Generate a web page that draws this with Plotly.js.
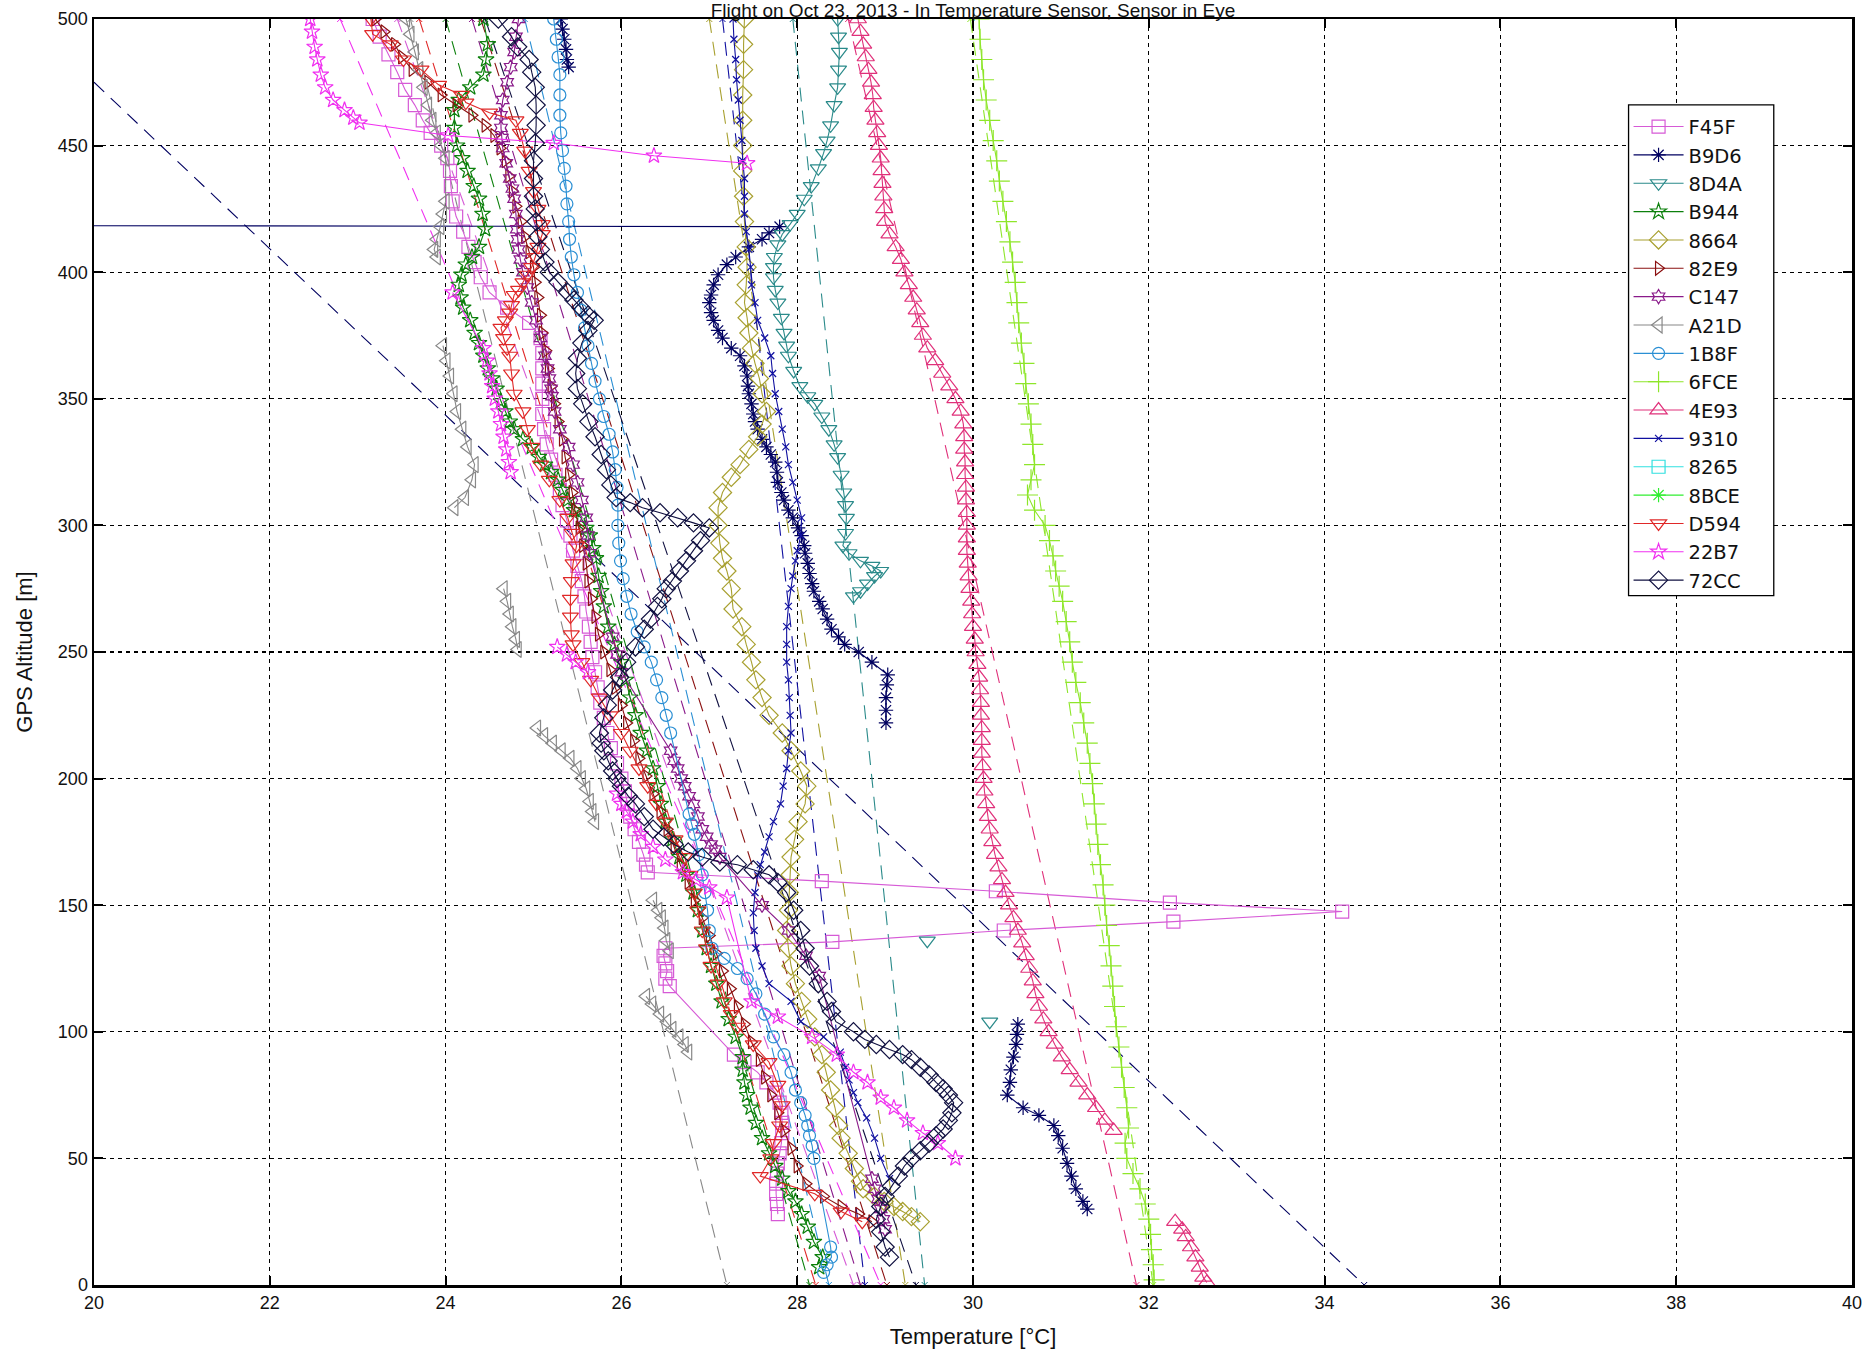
<!DOCTYPE html>
<html>
<head>
<meta charset="utf-8">
<script src="https://cdn.plot.ly/plotly-3.0.1.min.js"></script>
<style>html,body{margin:0;padding:0;background:#fff;}#chart{width:1868px;height:1352px;}</style>
</head>
<body>
<div id="chart"></div>
<script>
// ---------- DATA ----------
const sensorNames = ["F45F","B9D6","8D4A","B944","8664","82E9","C147","A21D","1B8F","6FCE","4E93","9310","8265","8BCE","D594","22B7","72CC"];

const alt_F45F = [500,493,486,479,472,466,460,455,450,445,440,434,428,422,416,410,404,398,392,386,380,374,368,362,356,350,344,338,332,326,320,314,308,302,296,290,284,278,272,266,260,254,248,242,236,230,224,218,212,206,200,195,190,185,180,175,170,166,163,159.5,155.5,151,147.5,143.5,140,135.5,133,130,127,124,121,118,91,88,84,80,76,72,68,64,60,56,52,48,44,40,36,32,28];
const temp_F45F = [23.17,23.25,23.35,23.45,23.54,23.65,23.74,23.83,23.95,24.02,24.05,24.06,24.08,24.12,24.2,24.26,24.33,24.4,24.5,24.7,24.95,25.08,25.1,25.1,25.1,25.1,25.1,25.12,25.15,25.2,25.25,25.3,25.33,25.38,25.42,25.45,25.5,25.55,25.58,25.6,25.63,25.65,25.67,25.7,25.73,25.76,25.8,25.84,25.88,25.95,26.0,26.04,26.07,26.1,26.15,26.2,26.25,26.28,26.3,28.28,30.26,32.24,34.2,32.28,30.35,28.4,26.5,26.48,26.5,26.52,26.5,26.55,27.28,27.4,27.55,27.65,27.75,27.8,27.82,27.83,27.83,27.82,27.8,27.78,27.77,27.76,27.76,27.77,27.78];

const alt_B9D6 = [500,496,492,488,484,481,null,419.3,418,415.5,413,410,406,403,399,395,391,388,384,381,377,374,370,367,363,359,355,352,348,344,341,338,334,331,328,325,321,317,313,310,306,303,299,296,292,289,285,281,277,274,270,267,263,259,256,253,250,246,241,237,232,227,222,null,103,99,95,90,85,80,75,70,67,63,59,54,48,43,38,33,30];
const temp_B9D6 = [25.31,25.33,25.35,25.37,25.38,25.4,null,0,27.8,27.68,27.6,27.45,27.3,27.2,27.1,27.05,27.02,27.0,27.02,27.05,27.1,27.15,27.25,27.35,27.4,27.43,27.44,27.45,27.48,27.5,27.52,27.55,27.6,27.65,27.7,27.75,27.77,27.78,27.82,27.85,27.9,27.95,28.01,28.05,28.08,28.09,28.12,28.14,28.17,28.19,28.25,28.29,28.34,28.39,28.47,28.54,28.7,28.85,29.03,29.02,29.01,29.01,29.01,null,30.51,30.5,30.49,30.46,30.43,30.42,30.39,30.57,30.75,30.92,30.97,31.02,31.07,31.12,31.17,31.25,31.3];

const alt_8D4A = [500,493,487,480,473,466,458,452,447,441,434,429,423,419,415,411,406,402,398,393,388,382,376,371,367,361,355,351,348,343,338,332,327,320,313,308,303,297,292,289,286,284,282,280,277,274,272,null,136,null,104];
const temp_8D4A = [28.46,28.47,28.48,28.47,28.46,28.42,28.38,28.34,28.3,28.24,28.16,28.08,28.0,27.92,27.83,27.78,27.74,27.73,27.73,27.75,27.78,27.82,27.85,27.88,27.9,27.96,28.03,28.12,28.2,28.28,28.36,28.42,28.46,28.5,28.53,28.55,28.56,28.55,28.52,28.59,28.72,28.85,28.95,28.88,28.8,28.72,28.64,null,29.48,null,30.19];

const alt_B944 = [500,490,484,478,473,468,464,457,450,445,440,434,429,423,417,410,406,403,399,395,390,386,381,376,372,367,362,358,354,349,345,341,338,334,331,327,324,321,318,314,310,306,303,299,296,291,287,280,274,268,260,253,246,239,232,225,218,211,204,197,190,183,176,169,162,155,148,140,133,126,119,112,105,98,90,85,80,75,70,64,58,52,47,42,37,33,28,23,17,11,7];
const temp_B944 = [24.43,24.48,24.46,24.43,24.28,24.15,24.1,24.1,24.13,24.19,24.25,24.32,24.38,24.42,24.45,24.38,24.3,24.23,24.18,24.15,24.17,24.2,24.28,24.33,24.38,24.43,24.48,24.53,24.58,24.63,24.68,24.73,24.78,24.88,24.98,25.06,25.13,25.2,25.28,25.33,25.39,25.46,25.54,25.6,25.64,25.68,25.71,25.74,25.77,25.8,25.85,25.92,26.0,26.05,26.1,26.16,26.22,26.29,26.36,26.41,26.45,26.5,26.58,26.66,26.74,26.82,26.87,26.92,26.97,27.02,27.08,27.14,27.22,27.3,27.38,27.38,27.4,27.43,27.47,27.53,27.6,27.68,27.75,27.83,27.9,27.98,28.05,28.12,28.19,28.29,28.25];

const alt_8664 = [500,490,480,470,460,450,440,430,420,410,402,395,388,382,376,370,364,358,352,345,340,335,330,324,319,313,307,300,293,287,282,275,267,260,253,246,239,232,225,218,211,203,197,190,183,176,169,162,155,148,140,133,126,119,112,105,98,91,84,77,70,63,58,52,46,41,38,35,33,31,29,27,25];
const temp_8664 = [27.4,27.39,27.39,27.38,27.38,27.38,27.38,27.39,27.4,27.42,27.43,27.42,27.4,27.43,27.45,27.48,27.52,27.57,27.6,27.65,27.6,27.55,27.45,27.35,27.25,27.15,27.1,27.1,27.12,27.15,27.2,27.25,27.27,27.37,27.42,27.48,27.53,27.6,27.68,27.83,27.93,28.04,28.11,28.09,28.01,27.97,27.93,27.92,27.91,27.9,27.88,27.9,27.93,27.98,28.05,28.12,28.2,28.28,28.33,28.38,28.43,28.47,28.5,28.58,28.65,28.72,28.75,28.88,28.99,29.1,29.2,29.3,29.4];

const alt_82E9 = [500,495,490,485,480,475,470,466,462,458,454,449,444,438,432,426,420,414,408,402,396,390,383,376,369,362,355,348,341,334,327,320,313,306,299,292,285,278,271,264,257,250,243,236,229,222,215,208,201,194,187,180,173,166,159,152,145,138,131,124,117,110,103,96,89,82,75,68,61,54,47,40,35,31,28,25];
const temp_82E9 = [23.2,23.3,23.42,23.5,23.62,23.8,23.95,24.12,24.3,24.45,24.55,24.62,24.68,24.72,24.76,24.8,24.86,24.9,24.95,25.0,25.02,25.05,25.08,25.1,25.14,25.17,25.2,25.24,25.28,25.33,25.36,25.4,25.44,25.47,25.52,25.56,25.6,25.62,25.66,25.7,25.74,25.8,25.87,25.93,26.0,26.06,26.14,26.2,26.28,26.36,26.44,26.52,26.6,26.67,26.76,26.83,26.92,27.0,27.08,27.15,27.24,27.32,27.4,27.48,27.57,27.63,27.7,27.78,27.85,27.93,28.0,28.1,28.3,28.5,28.7,28.85];

const alt_C147 = [500,493,487,481,475,468,462,457,453,449,443,437,433,429,423,417,413,409,405,400,394,388,381,374,367,362,358,354,351,345,338,331,324,317,310,303,296,289,256,249,242,211,207,204,200,197,193,190,185,180,177,174,172,169,150,140,130,122,42,38,34,30,26,22];
const temp_C147 = [24.83,24.8,24.78,24.74,24.7,24.65,24.63,24.63,24.64,24.65,24.69,24.73,24.76,24.78,24.8,24.81,24.82,24.83,24.85,24.88,24.93,24.98,25.03,25.08,25.13,25.16,25.18,25.2,25.21,25.24,25.3,25.4,25.45,25.5,25.55,25.6,25.62,25.64,25.9,25.95,26.0,26.56,26.6,26.64,26.68,26.72,26.77,26.82,26.87,26.92,26.97,27.02,27.07,27.12,27.6,27.9,28.1,28.25,28.85,28.88,28.92,28.95,28.98,29.0];

const alt_A21D = [500,494,487,480,473,466,460,455,450,445,428,423,418,413,409,406,null,371,365,359,352,345,338,331,324,318,311,307,null,275,270,265,260,255,251,null,220,217,214,211,208,204,200,196,191,187,183,null,152,148,145,141,136,132,null,114,111,107,104,101,98,95,92];
const temp_A21D = [23.55,23.6,23.65,23.7,23.75,23.8,23.85,23.9,23.95,24.0,24.0,23.97,23.94,23.9,23.87,23.9,null,23.97,24.01,24.05,24.09,24.13,24.19,24.25,24.33,24.3,24.22,24.1,null,24.66,24.7,24.73,24.76,24.8,24.82,null,25.04,25.12,25.22,25.32,25.42,25.5,25.55,25.6,25.64,25.67,25.7,null,26.36,26.42,26.46,26.49,26.51,26.55,null,26.28,26.35,26.44,26.52,26.58,26.66,26.72,26.76];

const alt_1B8F = [500,492,485,478,470,462,455,448,441,434,427,420,413,406,399,392,385,378,371,364,357,350,343,336,329,322,315,308,300,293,286,279,272,265,258,252,246,239,232,225,218,186,182,178,170,162,155,148,140,133,129,125,121,115,107,98,91,84,77,72,67,63,59,55,50,15,11,8,5];
const temp_1B8F = [25.23,25.26,25.28,25.3,25.3,25.3,25.31,25.33,25.35,25.37,25.38,25.4,25.41,25.43,25.46,25.5,25.54,25.58,25.62,25.66,25.7,25.75,25.8,25.86,25.9,25.93,25.95,25.96,25.96,25.97,25.99,26.02,26.06,26.11,26.18,26.26,26.34,26.4,26.46,26.51,26.56,26.77,26.8,26.83,26.88,26.92,26.95,26.98,27.0,27.03,27.17,27.32,27.43,27.53,27.63,27.73,27.85,27.93,27.98,28.04,28.09,28.12,28.14,28.17,28.19,28.38,28.39,28.34,28.3];

const alt_6FCE = [500,492,484,476,468,460,452,444,436,428,420,412,404,396,388,380,372,364,356,348,340,332,324,318,312,306,300,294,288,282,276,270,262,254,246,238,230,222,214,206,198,190,182,174,166,158,150,142,134,126,118,110,102,94,86,78,70,62,56,50,44,38,32,26,20,14,8,2];
const temp_6FCE = [30.07,30.08,30.1,30.12,30.15,30.19,30.23,30.27,30.3,30.34,30.38,30.42,30.45,30.48,30.5,30.52,30.55,30.58,30.6,30.63,30.66,30.68,30.7,30.66,30.62,30.7,30.82,30.87,30.91,30.94,30.98,31.02,31.06,31.1,31.13,31.17,31.22,31.26,31.3,31.33,31.36,31.38,31.4,31.42,31.45,31.48,31.5,31.52,31.55,31.57,31.59,31.61,31.63,31.66,31.69,31.72,31.75,31.77,31.73,31.75,31.82,31.9,31.96,32.0,32.02,32.03,32.05,32.06];

const alt_4E93 = [500,495,490,485,480,475,470,465,460,455,450,445,440,435,430,425,420,415,410,405,400,395,390,385,380,375,370,365,360,355,350,345,340,335,330,325,320,315,310,305,300,295,290,285,280,275,270,265,260,255,250,245,240,235,230,225,220,215,210,205,200,195,190,185,180,175,170,165,160,155,150,145,140,135,130,125,120,115,110,105,100,95,90,85,80,75,70,65,61,null,25,22,19,15,11,7,3,1];
const temp_4E93 = [28.69,28.72,28.75,28.78,28.81,28.84,28.86,28.87,28.89,28.91,28.93,28.95,28.96,28.97,28.98,28.99,29.0,29.05,29.12,29.18,29.22,29.27,29.32,29.36,29.4,29.43,29.48,29.57,29.65,29.73,29.8,29.86,29.89,29.9,29.9,29.91,29.91,29.92,29.92,29.93,29.93,29.93,29.93,29.94,29.95,29.96,29.98,29.99,30.0,30.02,30.03,30.05,30.07,30.08,30.09,30.09,30.1,30.1,30.1,30.11,30.12,30.13,30.15,30.17,30.19,30.22,30.25,30.29,30.33,30.37,30.41,30.46,30.51,30.56,30.6,30.64,30.68,30.71,30.75,30.8,30.86,30.93,31.01,31.1,31.2,31.3,31.4,31.5,31.6,null,32.3,32.38,32.42,32.48,32.53,32.58,32.62,32.66];

const alt_9310 = [500,492,484,476,468,460,452,444,437,430,423,416,409,402,395,388,381,374,367,360,352,345,338,331,324,317,310,303,296,290,286,280,275,268,260,253,246,239,232,225,218,211,204,197,190,183,177,171,166,162,155,147,140,133,126,119,112,104,98,92,86,81,76,72,66,58,50,42];
const temp_9310 = [27.27,27.28,27.3,27.31,27.33,27.35,27.37,27.38,27.4,27.4,27.4,27.42,27.45,27.47,27.48,27.52,27.55,27.63,27.7,27.72,27.75,27.79,27.83,27.87,27.9,27.95,28.0,28.05,28.04,28.0,27.98,27.95,27.93,27.9,27.88,27.88,27.88,27.9,27.91,27.92,27.93,27.9,27.88,27.84,27.81,27.73,27.68,27.63,27.58,27.55,27.52,27.5,27.51,27.53,27.6,27.68,27.93,28.04,28.3,28.49,28.55,28.59,28.64,28.69,28.79,28.88,28.95,29.05];

// 8265 and 8BCE have no visible samples inside the plotted window
const alt_8265 = [null];
const temp_8265 = [null];
const alt_8BCE = [null];
const temp_8BCE = [null];

const alt_D594 = [500,494,490,484,480,474,470,467,463,460,455,448,440,432,425,419,415,410,406,402,399,396,393,391,387,384,381,378,374,370,367,360,352,345,338,331,324,318,310,303,297,292,285,278,271,264,257,253,246,239,232,225,218,211,204,197,190,183,176,169,162,155,148,140,133,126,119,112,107,102,95,88,79,71,63,56,50,43,36,29,25];
const temp_D594 = [23.15,23.17,23.37,23.52,23.72,23.92,24.18,24.23,24.5,24.8,24.85,24.9,24.95,25.0,25.05,25.1,25.1,25.05,25.02,24.98,24.93,24.88,24.83,24.78,24.75,24.73,24.68,24.63,24.66,24.7,24.73,24.75,24.78,24.88,24.93,24.98,25.08,25.18,25.3,25.39,25.44,25.49,25.45,25.43,25.42,25.42,25.43,25.45,25.55,25.65,25.75,25.87,26.0,26.1,26.2,26.3,26.4,26.5,26.61,26.72,26.78,26.83,26.87,26.92,26.97,27.02,27.1,27.17,27.25,27.32,27.5,27.68,27.78,27.83,27.8,27.73,27.7,27.58,28.2,28.5,28.74];

const alt_22B7 = [500,495,489,484,478,473,468,464,461,459,454,451,446,443,null,392,370,365,360,355,350,345,340,335,330,325,321,null,252,249,246,242,null,194,190,187,183,178,173,168,163,160,157,153,112,106,98,91,84,80,74,70,65,60,56,50];
const temp_22B7 = [22.46,22.48,22.51,22.54,22.58,22.63,22.72,22.85,22.95,23.02,24.03,25.23,26.37,27.43,null,24.08,24.43,24.47,24.5,24.53,24.56,24.6,24.63,24.66,24.69,24.72,24.74,null,25.27,25.38,25.48,25.62,null,25.95,26.0,26.06,26.13,26.22,26.36,26.5,26.7,26.85,27.0,27.2,27.48,27.78,28.17,28.45,28.64,28.8,28.95,29.1,29.25,29.43,29.6,29.8];

const alt_72CC = [500,493,489,484,479,473,466,458,451,444,437,430,425,420,414,409,404,400,396,392,389,386,383,381,377,372,366,360,354,348,341,335,328,322,316,311,309,307,305,303,301,299,294,290,286,282,278,275,271,268,263,259,252,246,240,235,229,224,218,214,211,207,203,200,197,193,190,185,180,177,174,171,169,167,166,164,162,159,155,148,140,133,126,119,112,108,104,100,97,95,93,91,89,86,83,80,77.5,75,72,68,65,61.6,59,56,53,50,47,43,39,35,31,26,21,15,11];
const temp_72CC = [24.6,24.75,24.82,24.95,24.98,25.02,25.03,25.03,25.02,25.0,25.0,25.0,25.02,25.03,25.05,25.08,25.13,25.18,25.28,25.39,25.46,25.54,25.62,25.69,25.62,25.55,25.5,25.48,25.5,25.56,25.63,25.7,25.77,25.83,25.88,25.94,26.1,26.24,26.44,26.64,26.82,27.0,26.9,26.82,26.74,26.66,26.58,26.51,26.46,26.41,26.33,26.26,26.16,26.06,25.98,25.9,25.84,25.8,25.75,25.77,25.8,25.85,25.9,25.95,26.0,26.08,26.16,26.26,26.36,26.48,26.6,26.76,26.92,27.12,27.32,27.5,27.68,27.78,27.88,27.96,28.04,28.09,28.14,28.24,28.34,28.39,28.44,28.64,28.77,28.9,29.05,29.2,29.3,29.4,29.5,29.58,29.66,29.72,29.78,29.76,29.72,29.66,29.58,29.5,29.4,29.3,29.22,29.15,29.07,29.0,28.95,28.9,28.95,29.0,29.05];

// dashed straight fit lines: temperature at 500 m and at 0 m
const fitAlt = [500, 0];
const fit_F45F = [23.45, 28.64];
const fit_B9D6 = [19.24, 34.45];
const fit_8D4A = [27.95, 29.45];
const fit_B944 = [24.0, 28.14];
const fit_8664 = [27.0, 29.23];
const fit_82E9 = [24.4, 29.02];
const fit_C147 = [24.3, 28.72];
const fit_A21D = [23.6, 27.2];
const fit_1B8F = [24.9, 28.36];
const fit_6FCE = [29.97, 32.05];
const fit_4E93 = [28.58, 31.86];
const fit_9310 = [27.15, 28.77];
const fit_D594 = [23.7, 28.21];
const fit_22B7 = [22.8, 28.95];
const fit_72CC = [24.45, 29.35];

const xTicks = [20,22,24,26,28,30,32,34,36,38,40];
const yTicks = [0,50,100,150,200,250,300,350,400,450,500];

// ---------- STYLE ----------
const styles = {
  "F45F": {color:"#d65ad6", symbol:"square-open", size:13},
  "B9D6": {color:"#000060", symbol:"asterisk-open", size:12},
  "8D4A": {color:"#2a8a8a", symbol:"triangle-down-open", size:14},
  "B944": {color:"#0c800c", symbol:"star-open", size:12},
  "8664": {color:"#a8a030", symbol:"diamond-open", size:14},
  "82E9": {color:"#8b1010", symbol:"triangle-right-open", size:12},
  "C147": {color:"#8a1a8a", symbol:"hexagram-open", size:11},
  "A21D": {color:"#888888", symbol:"triangle-left-open", size:14},
  "1B8F": {color:"#2a8fd4", symbol:"circle-open", size:12},
  "6FCE": {color:"#8ee62a", symbol:"cross-thin-open", size:15},
  "4E93": {color:"#e0307a", symbol:"triangle-up-open", size:15},
  "9310": {color:"#1010a0", symbol:"x-thin-open", size:7},
  "8265": {color:"#30e0e0", symbol:"square-open", size:13},
  "8BCE": {color:"#30ee30", symbol:"asterisk-open", size:12},
  "D594": {color:"#e02828", symbol:"triangle-down-open", size:14},
  "22B7": {color:"#f030f0", symbol:"star-open", size:12},
  "72CC": {color:"#101040", symbol:"diamond-open", size:14}
};

const seriesData = {
  "F45F":[alt_F45F,temp_F45F,fit_F45F], "B9D6":[alt_B9D6,temp_B9D6,fit_B9D6], "8D4A":[alt_8D4A,temp_8D4A,fit_8D4A],
  "B944":[alt_B944,temp_B944,fit_B944], "8664":[alt_8664,temp_8664,fit_8664], "82E9":[alt_82E9,temp_82E9,fit_82E9],
  "C147":[alt_C147,temp_C147,fit_C147], "A21D":[alt_A21D,temp_A21D,fit_A21D], "1B8F":[alt_1B8F,temp_1B8F,fit_1B8F],
  "6FCE":[alt_6FCE,temp_6FCE,fit_6FCE], "4E93":[alt_4E93,temp_4E93,fit_4E93], "9310":[alt_9310,temp_9310,fit_9310],
  "8265":[alt_8265,temp_8265,null], "8BCE":[alt_8BCE,temp_8BCE,null], "D594":[alt_D594,temp_D594,fit_D594],
  "22B7":[alt_22B7,temp_22B7,fit_22B7], "72CC":[alt_72CC,temp_72CC,fit_72CC]
};

const traces = [];
// fits first (under the data)
sensorNames.forEach(n => {
  const fit = seriesData[n][2];
  if (!fit) return;
  traces.push({
    type:"scatter", mode:"lines+markers", x: fit, y: fitAlt, name: n+" fit",
    showlegend:false, hoverinfo:"skip",
    line:{color: styles[n].color, width:1.1, dash:"14px,9px"},
    marker:{symbol:"x-thin-open", size:6, color: styles[n].color, line:{width:1, color: styles[n].color}}
  });
});
sensorNames.forEach(n => {
  const s = styles[n];
  traces.push({
    type:"scatter", mode:"lines+markers", x: seriesData[n][1], y: seriesData[n][0], name: n,
    connectgaps:false,
    line:{color:s.color, width:1.1},
    marker:{symbol:s.symbol, size:s.size, color:s.color, line:{width:1.2, color:s.color}}
  });
});

const baseFont = "Liberation Sans, Arial, sans-serif";
const axisCommon = {
  showline:true, linecolor:"#000", linewidth:2.5, mirror:"allticks",
  ticks:"inside", ticklen:9, tickwidth:2, tickcolor:"#000",
  showgrid:true, gridcolor:"#000", gridwidth:1.3, griddash:"4px,4px",
  zeroline:false, tickfont:{family:baseFont, size:18, color:"#111"}
};

// legend frame (decoration) in paper coordinates
const legendBox = {x0:0.8729, x1:0.9555, y0:0.5445, y1:0.9322};

const layout = {
  width:1868, height:1352,
  margin:{l:94, r:16, t:19, b:67},
  paper_bgcolor:"#fff", plot_bgcolor:"#fff",
  font:{family:baseFont, color:"#111"},
  title:{text:"Flight on Oct 23, 2013 - In Temperature Sensor, Sensor in Eye", x:0.5, xref:"paper", y:1-10/1352, yref:"container", yanchor:"middle", font:{size:19, color:"#111"}},
  xaxis: Object.assign({}, axisCommon, {range:[20,40], tickvals:xTicks, ticktext:xTicks.map(String), title:{text:"Temperature [°C]", font:{size:22}, standoff:17}}),
  yaxis: Object.assign({}, axisCommon, {range:[0,500], tickvals:yTicks, ticktext:yTicks.map(String), title:{text:"GPS Altitude [m]", font:{size:22}, standoff:19}}),
  shapes:[{type:"rect", xref:"paper", yref:"paper", x0:legendBox.x0, x1:legendBox.x1, y0:legendBox.y0, y1:legendBox.y1,
           fillcolor:"#fff", line:{color:"#000", width:1.3}, layer:"above"}],
  showlegend:true,
  legend:{x:legendBox.x0, y:legendBox.y1 - 0.002, xanchor:"left", yanchor:"top", bgcolor:"rgba(0,0,0,0)", borderwidth:0,
          font:{family:"DejaVu Sans, Liberation Sans, sans-serif", size:19.5, color:"#111"}, traceorder:"normal", itemwidth:50}
};

Plotly.newPlot("chart", traces, layout, {staticPlot:true, displayModeBar:false});
</script>
</body>
</html>
